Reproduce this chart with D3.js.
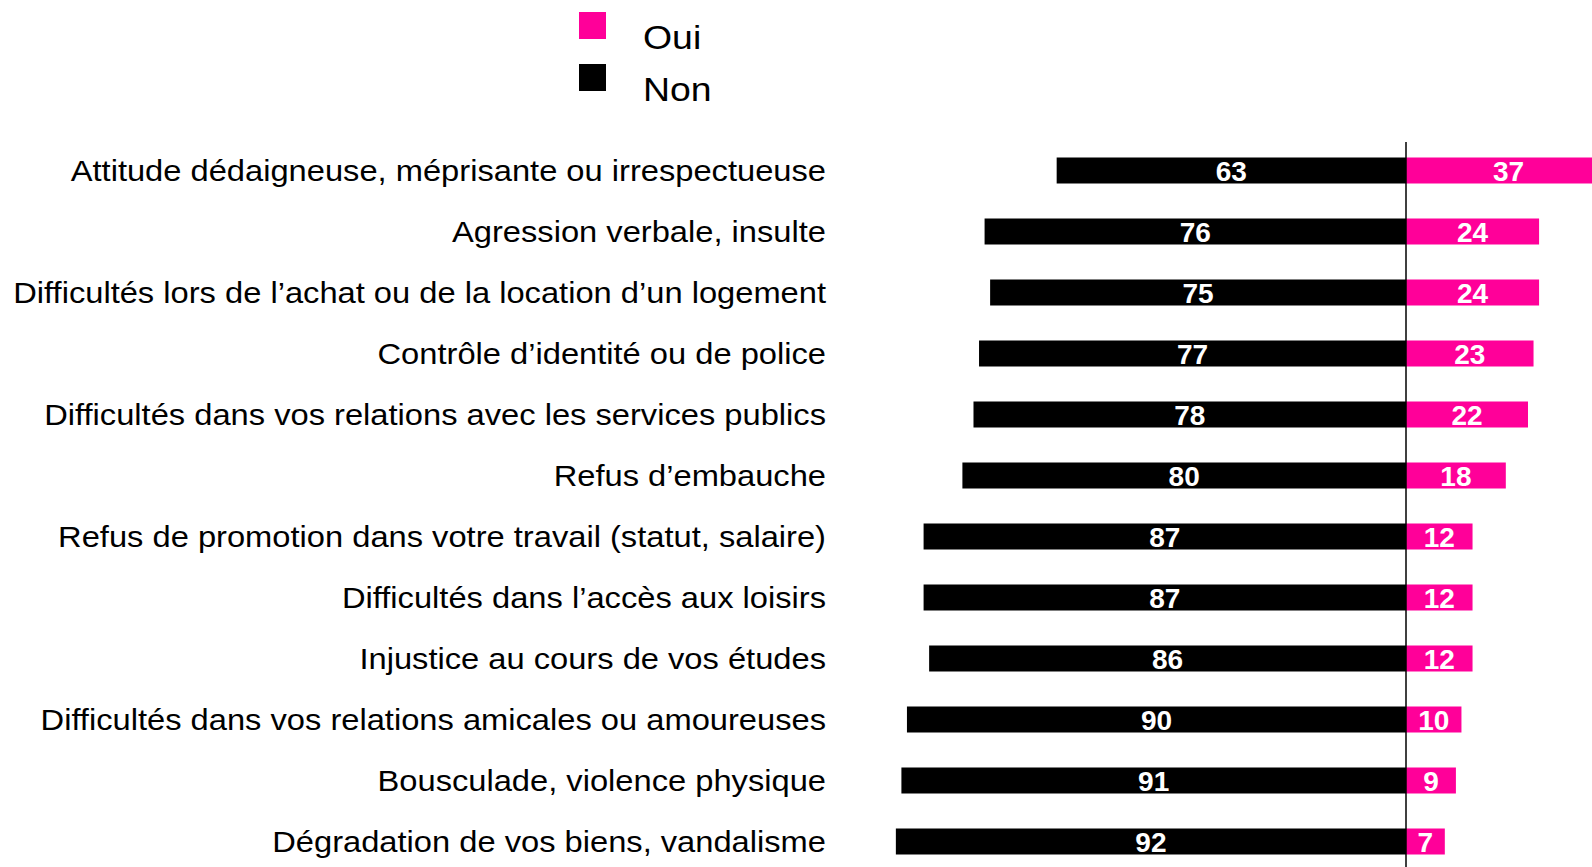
<!DOCTYPE html>
<html>
<head>
<meta charset="utf-8">
<script src="https://cdn.jsdelivr.net/npm/d3@7"></script>
<style>
  body { margin: 0; background: #fff; }
  svg { display: block; font-family: "Liberation Sans", Arial, sans-serif; }
</style>
</head>
<body>
<div id="container"></div>
<script>
const categories = [
  "Attitude dédaigneuse, méprisante ou irrespectueuse",
  "Agression verbale, insulte",
  "Difficultés lors de l’achat ou de la location d’un logement",
  "Contrôle d’identité ou de police",
  "Difficultés dans vos relations avec les services publics",
  "Refus d’embauche",
  "Refus de promotion dans votre travail (statut, salaire)",
  "Difficultés dans l’accès aux loisirs",
  "Injustice au cours de vos études",
  "Difficultés dans vos relations amicales ou amoureuses",
  "Bousculade, violence physique",
  "Dégradation de vos biens, vandalisme"
];
const oui = [37, 24, 24, 23, 22, 18, 12, 12, 12, 10, 9, 7];
const non = [63, 76, 75, 77, 78, 80, 87, 87, 86, 90, 91, 92];
const seriesNames = ["Oui", "Non"];
const colors = ["#ff0099", "#000000"];

const width = 1592;
const height = 867;
const zeroX = 1406;
const unit = 5.545;

const svg = d3.create("svg")
    .attr("width", width)
    .attr("height", height);

// x: negative side for "Non", positive for "Oui"
const x = d3.scaleLinear()
    .domain([-100, 100])
    .range([zeroX - 100 * unit, zeroX + 100 * unit]);

const y = d3.scalePoint()
    .domain(categories)
    .range([140, 872])
    .padding(0.5);

const barH = 26;

const rows = categories.map((c, i) => ({cat: c, oui: oui[i], non: non[i]}));

// Non bars
svg.append("g").selectAll("rect")
  .data(rows)
  .join("rect")
    .attr("x", d => x(-d.non))
    .attr("y", d => y(d.cat) - barH / 2)
    .attr("width", d => x(0) - x(-d.non))
    .attr("height", barH)
    .attr("fill", colors[1]);

// Oui bars
svg.append("g").selectAll("rect")
  .data(rows)
  .join("rect")
    .attr("x", x(0))
    .attr("y", d => y(d.cat) - barH / 2)
    .attr("width", d => x(d.oui) - x(0))
    .attr("height", barH)
    .attr("fill", colors[0]);

// value labels
svg.append("g").selectAll("text")
  .data(rows)
  .join("text")
    .attr("x", d => (x(-d.non) + x(0)) / 2)
    .attr("y", d => y(d.cat))
    .attr("dy", "0.36em")
    .attr("text-anchor", "middle")
    .attr("fill", "#fff")
    .attr("font-weight", "bold")
    .attr("font-size", 28)
    .text(d => d.non);

svg.append("g").selectAll("text")
  .data(rows)
  .join("text")
    .attr("x", d => (x(d.oui) + x(0)) / 2)
    .attr("y", d => y(d.cat))
    .attr("dy", "0.36em")
    .attr("text-anchor", "middle")
    .attr("fill", "#fff")
    .attr("font-weight", "bold")
    .attr("font-size", 28)
    .text(d => d.oui);

// zero line
svg.append("line")
    .attr("x1", x(0)).attr("x2", x(0))
    .attr("y1", 142).attr("y2", height)
    .attr("stroke", "#000")
    .attr("stroke-width", 1.5);

// category labels (the original text is a bit wider than the font)
svg.append("g").selectAll("text")
  .data(categories)
  .join("text")
    .attr("transform", d => `translate(826,${y(d)}) scale(1.127,1)`)
    .attr("dy", "0.36em")
    .attr("text-anchor", "end")
    .attr("font-size", 29)
    .attr("fill", "#000")
    .text(d => d);

// legend
const legend = svg.append("g");
seriesNames.forEach((s, i) => {
  legend.append("rect")
    .attr("x", 579)
    .attr("y", 12 + i * 52)
    .attr("width", 27)
    .attr("height", 27)
    .attr("fill", colors[i]);
  legend.append("text")
    .attr("transform", `translate(643,${37 + i * 52}) scale(1.1,1)`)
    .attr("dy", "0.36em")
    .attr("font-size", 34)
    .attr("fill", "#000")
    .text(s);
});

container.append(svg.node());
</script>
</body>
</html>
